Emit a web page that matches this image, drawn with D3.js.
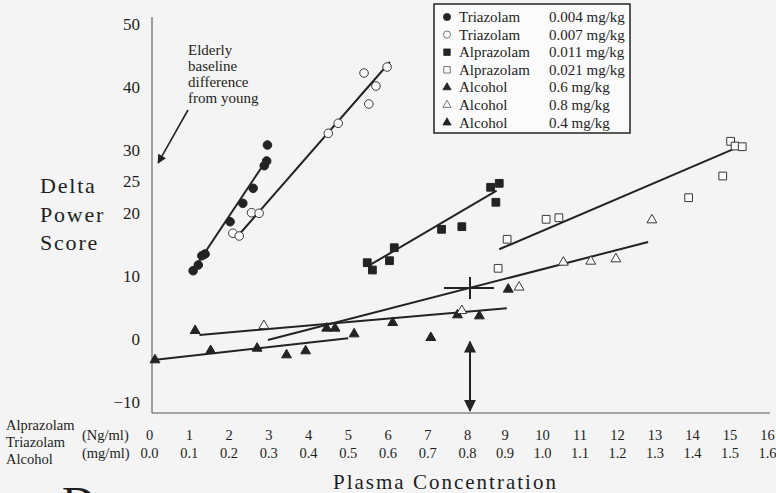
<!doctype html>
<meta charset="utf-8">
<title>Delta power score vs plasma concentration</title>
<script src="https://cdn.jsdelivr.net/npm/d3@7/dist/d3.min.js"></script>
<style>
  body { margin: 0; background: #f3f4f3; }
  svg { display: block; font-family: "Liberation Serif", "DejaVu Serif", "Times New Roman", serif; }
  text { fill: #1e1e1e; }
</style>
<body>
<svg id="chart" width="776" height="493"></svg>
<script>

// points: [concentration (Ng/ml, or mg/ml x10), delta power score]
var triazolamLow = [[1.11,10.84],[1.24,11.75],[1.33,13.22],[1.41,13.49],[2.04,18.62],
                    [2.36,21.54],[2.62,23.92],[2.90,27.51],[2.96,28.25],[2.98,30.79]];
var triazolamHigh = [[2.11,16.78],[2.27,16.35],[2.58,20.05],[2.77,19.95],[4.51,32.65],
                     [4.76,34.24],[5.41,42.22],[5.53,37.30],[5.71,40.16],[5.99,43.17]];
var alprazolamLow = [[5.49,12.11],[5.62,10.95],[6.05,12.43],[6.17,14.49],[7.36,17.41],
                     [7.87,17.83],[8.63,24.08],[8.86,24.71],[8.77,21.70]];
var alprazolamHigh = [[8.83,11.22],[9.07,15.83],[10.11,19.0],[10.45,19.25],[13.91,22.43],
                      [14.82,25.87],[15.03,31.38],[15.15,30.63],[15.34,30.52]];
var alcoholMid = [[1.16,1.32],[4.47,1.70],[4.68,1.70],[6.13,2.59],[7.09,0.21],
                  [7.76,3.81],[8.33,3.65],[9.10,7.89]];
var alcoholHigh = [[2.89,2.11],[7.87,4.49],[9.39,8.21],[10.57,12.17],[11.30,12.33],
                   [11.97,12.70],[12.93,18.89]];
var alcoholLow = [[0.15,-3.33],[1.55,-1.86],[2.72,-1.48],[3.46,-2.54],[3.94,-1.90],[5.16,0.79]];

// fitted lines, [start, end]
var fitTriazolamLow = [[1.08,10.63],[2.99,28.73]];
var fitTriazolamHigh = [[2.19,16.03],[6.06,43.97]];
var fitAlprazolamLow = [[5.56,11.75],[8.79,23.54]];
var fitAlprazolamHigh = [[8.86,14.24],[15.15,30.27]];
var fitAlcoholMid = [[1.27,0.63],[9.06,4.87]];
var fitAlcoholHigh = [[2.99,-0.16],[12.83,15.40]];
var fitAlcoholLow = [[0.11,-3.33],[5.01,0.11]];

var legendNames = ['Triazolam','Triazolam','Alprazolam','Alprazolam','Alcohol','Alcohol','Alcohol'];
var legendDoses = ['0.004 mg/kg','0.007 mg/kg','0.011 mg/kg','0.021 mg/kg','0.6 mg/kg','0.8 mg/kg','0.4 mg/kg'];

var xTicks = d3.range(0, 17);
var yTicks = [-10, 0, 10, 20, 25, 30, 40, 50];

var crossPoint = [8.08, 8.10];           // "+" marker
var baselineArrow = [[8.08,-0.43],[8.08,-11.38]];
var elderlyArrow = [[0.98,36.35],[0.23,27.94]];
var elderlyText = ['Elderly','baseline','difference','from young'];

var ink = '#232323';

var svg = d3.select('#chart');

// the printed scale is a bit stretched on the left half
var x = d3.scaleLinear().domain([0, 8, 16]).range([149, 467, 767]);
var y = d3.scaleLinear().domain([-10, 50]).range([402, 24]);

var series = [
  { pts: triazolamLow,   fit: fitTriazolamLow,   shape: d3.symbolCircle,   size: 58, filled: true },
  { pts: triazolamHigh,  fit: fitTriazolamHigh,  shape: d3.symbolCircle,   size: 58, filled: false },
  { pts: alprazolamLow,  fit: fitAlprazolamLow,  shape: d3.symbolSquare,   size: 60, filled: true },
  { pts: alprazolamHigh, fit: fitAlprazolamHigh, shape: d3.symbolSquare,   size: 60, filled: false },
  { pts: alcoholMid,     fit: fitAlcoholMid,     shape: d3.symbolTriangle, size: 42, filled: true },
  { pts: alcoholHigh,    fit: fitAlcoholHigh,    shape: d3.symbolTriangle, size: 42, filled: false },
  { pts: alcoholLow,     fit: fitAlcoholLow,     shape: d3.symbolTriangle, size: 42, filled: true }
];

var defs = svg.append('defs');
defs.append('marker')
  .attr('id', 'head')
  .attr('viewBox', '0 -5 10 10')
  .attr('refX', 9).attr('refY', 0)
  .attr('markerUnits', 'userSpaceOnUse')
  .attr('markerWidth', 12).attr('markerHeight', 13)
  .attr('orient', 'auto-start-reverse')
  .append('path').attr('d', 'M0,-5L10,0L0,5Z').attr('fill', ink);
defs.append('marker')
  .attr('id', 'smallhead')
  .attr('viewBox', '0 -5 10 10')
  .attr('refX', 9).attr('refY', 0)
  .attr('markerUnits', 'userSpaceOnUse')
  .attr('markerWidth', 13).attr('markerHeight', 9)
  .attr('orient', 'auto')
  .append('path').attr('d', 'M0,-5L10,0L0,5Z').attr('fill', ink);

// frame
svg.append('line').attr('x1', 152).attr('x2', 152).attr('y1', 17).attr('y2', 413)
  .attr('stroke', '#666').attr('stroke-width', 1.2);
svg.append('line').attr('x1', 152).attr('x2', 770).attr('y1', 413).attr('y2', 413)
  .attr('stroke', '#555').attr('stroke-width', 1.2);

// axes
function styleAxis(g, size) {
  g.select('.domain').remove();
  g.attr('font-family', '"Liberation Serif", "DejaVu Serif", serif').attr('font-size', size).attr('color', ink);
}
svg.append('g')
  .attr('transform', 'translate(152,0)')
  .call(d3.axisLeft(y).tickValues(yTicks).tickSize(0).tickPadding(12).tickFormat(d3.format('d')))
  .call(styleAxis, 17);

svg.append('g')
  .attr('transform', 'translate(0,413)')
  .call(d3.axisBottom(x).tickValues(xTicks).tickSize(0).tickPadding(17))
  .call(styleAxis, 14.5);
svg.append('g')
  .attr('transform', 'translate(0,413)')
  .call(d3.axisBottom(x).tickValues(xTicks).tickSize(0).tickPadding(35)
    .tickFormat(function(d) { return (d / 10).toFixed(1); }))
  .call(styleAxis, 14.5);

// axis titles
var side = svg.append('g').attr('font-size', 22).attr('letter-spacing', 1.8);
['Delta', 'Power', 'Score'].forEach(function(t, i) {
  side.append('text').attr('x', 40).attr('y', 193 + i * 28.5).text(t);
});
var drugs = svg.append('g').attr('font-size', 14.5);
['Alprazolam', 'Triazolam', 'Alcohol'].forEach(function(t, i) {
  drugs.append('text').attr('x', 6).attr('y', 430 + i * 17).text(t);
});
drugs.append('text').attr('x', 82).attr('y', 440).text('(Ng/ml)');
drugs.append('text').attr('x', 82).attr('y', 458).text('(mg/ml)');

svg.append('text').attr('x', 333).attr('y', 489)
  .attr('font-size', 21).attr('letter-spacing', 2).text('Plasma Concentration');
// panel letter, cut by the page edge as in the print
svg.append('text').attr('x', 62).attr('y', 519).attr('font-size', 46).text('D');

// fitted lines
var line = d3.line().x(function(d) { return x(d[0]); }).y(function(d) { return y(d[1]); });
svg.append('g').selectAll('path')
  .data(series)
  .join('path')
  .attr('d', function(s) { return line(s.fit); })
  .attr('fill', 'none')
  .attr('stroke', ink)
  .attr('stroke-width', 2);

// points
series.forEach(function(s) {
  svg.append('g').selectAll('path')
    .data(s.pts)
    .join('path')
    .attr('transform', function(d) { return 'translate(' + x(d[0]) + ',' + y(d[1]) + ')'; })
    .attr('d', d3.symbol().type(s.shape).size(s.size))
    .attr('fill', s.filled ? ink : '#fbfbfb')
    .attr('stroke', s.filled ? ink : '#3a3a3a')
    .attr('stroke-width', 1);
});

// cross marker
var cx = x(crossPoint[0]), cy = y(crossPoint[1]);
svg.append('path')
  .attr('d', 'M' + (cx - 26) + ',' + cy + 'H' + (cx + 24) + 'M' + cx + ',' + (cy - 11) + 'V' + (cy + 11))
  .attr('stroke', ink).attr('stroke-width', 2);

// double-headed arrow
svg.append('line')
  .attr('x1', x(baselineArrow[0][0])).attr('y1', y(baselineArrow[0][1]))
  .attr('x2', x(baselineArrow[1][0])).attr('y2', y(baselineArrow[1][1]))
  .attr('stroke', ink).attr('stroke-width', 2)
  .attr('marker-start', 'url(#head)').attr('marker-end', 'url(#head)');

// elderly annotation
svg.append('line')
  .attr('x1', x(elderlyArrow[0][0])).attr('y1', y(elderlyArrow[0][1]))
  .attr('x2', x(elderlyArrow[1][0])).attr('y2', y(elderlyArrow[1][1]))
  .attr('stroke', ink).attr('stroke-width', 1.6)
  .attr('marker-end', 'url(#smallhead)');
var note = svg.append('g').attr('font-size', 15);
elderlyText.forEach(function(t, i) {
  note.append('text').attr('x', 188).attr('y', 55 + i * 16).text(t);
});

// legend
var legend = svg.append('g');
legend.append('rect')
  .attr('x', 434).attr('y', 4).attr('width', 196).attr('height', 129)
  .attr('fill', '#fbfbfb').attr('stroke', ink).attr('stroke-width', 1.5);
series.forEach(function(s, i) {
  var ry = 17 + i * 17.6;
  legend.append('path')
    .attr('transform', 'translate(447,' + ry + ')')
    .attr('d', d3.symbol().type(s.shape).size(s.size * 0.7))
    .attr('fill', s.filled ? ink : '#fbfbfb')
    .attr('stroke', s.filled ? ink : '#555')
    .attr('stroke-width', 0.8);
  legend.append('text').attr('x', 459).attr('y', ry + 5).attr('font-size', 15).text(legendNames[i]);
  legend.append('text').attr('x', 549).attr('y', ry + 5).attr('font-size', 15).text(legendDoses[i]);
});

</script>
</body>
